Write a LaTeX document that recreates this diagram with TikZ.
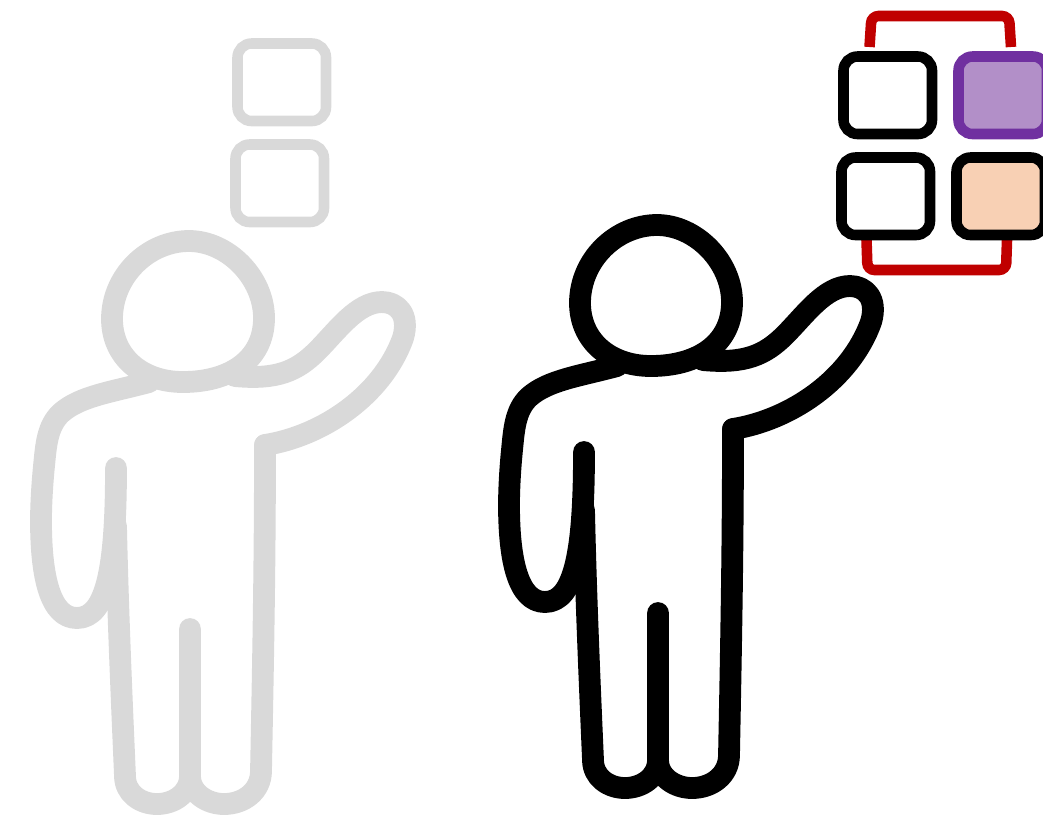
\documentclass[tikz,border=0pt]{standalone}
\usepackage{xcolor}
\definecolor{fadegray}{RGB}{217,217,217}
\definecolor{bracketred}{RGB}{192,0,0}
\definecolor{cellpurple}{RGB}{112,48,160}
\definecolor{fillpurple}{RGB}{178,143,200}
\definecolor{fillpeach}{RGB}{248,208,180}
\tikzset{
  personline/.style={line width=6.2pt, line cap=round, line join=round},
  cellbox/.style={line width=3pt, rounded corners=4pt, draw=black},
  bracketline/.style={line width=3pt, draw=bracketred, rounded corners=2pt},
  person/.pic={
    % head
    \draw[personline, pic actions] (657,225) .. controls (696,225) and (732,262) .. (732,302)
      .. controls (732,345) and (696,366) .. (651,366)
      .. controls (609,366) and (580,340) .. (580,303)
      .. controls (580,260) and (616,225) .. (657,225) -- cycle;
    % shoulder and hanging arm
    \draw[personline, pic actions] (617,366) .. controls (580,376) and (548,380) .. (529,397)
      .. controls (515,410) and (514,430) .. (512,450)
      .. controls (510,470) and (509,490) .. (509,505)
      .. controls (509,560) and (518,602) .. (545,602)
      .. controls (575,602) and (584,550) .. (584,452);
    % legs
    \draw[personline, pic actions] (584,510) .. controls (586,600) and (590,690) .. (593,760)
      .. controls (593,777) and (608,788) .. (625,788)
      .. controls (642,788) and (658,777) .. (658,760) -- (658,613);
    \draw[personline, pic actions] (658,760) .. controls (658,777) and (675,788) .. (692,788)
      .. controls (712,788) and (729,775) .. (729,755)
      .. controls (731,650) and (733,550) .. (733,429);
    % raised arm
    \draw[personline, pic actions] (733,429) .. controls (790,420) and (850,380) .. (871,322)
      .. controls (878,298) and (865,286) .. (850,286)
      .. controls (825,286) and (805,315) .. (785,335)
      .. controls (765,355) and (745,364) .. (703,360);
  },
}
\begin{document}
\begin{tikzpicture}[x=0.01cm, y=-0.01cm]
  \useasboundingbox (0,0) rectangle (1043,814);
  % faded figure
  \pic[draw=fadegray] at (-468,16) {person};
  \draw[cellbox, draw=fadegray] (237.5,43.5) rectangle (326,121);
  \draw[cellbox, draw=fadegray] (235.5,144.5) rectangle (324,222);
  % brackets over and under the cells
  \draw[bracketline] (869.5,47) -- (871.5,16) -- (1009,16) -- (1011,47);
  \draw[bracketline] (866.5,240) -- (867.5,270) -- (1006,270) -- (1007,240);
  % figure in front
  \pic[draw=black] at (0,0) {person};
  % cells
  \draw[cellbox] (843.5,56.5) rectangle (932,134);
  \draw[cellbox, draw=cellpurple, fill=fillpurple] (958.5,56.5) rectangle (1047,134);
  \draw[cellbox] (841.5,157.5) rectangle (930,235);
  \draw[cellbox, fill=fillpeach] (956.5,157.5) rectangle (1045,235);
\end{tikzpicture}
\end{document}
